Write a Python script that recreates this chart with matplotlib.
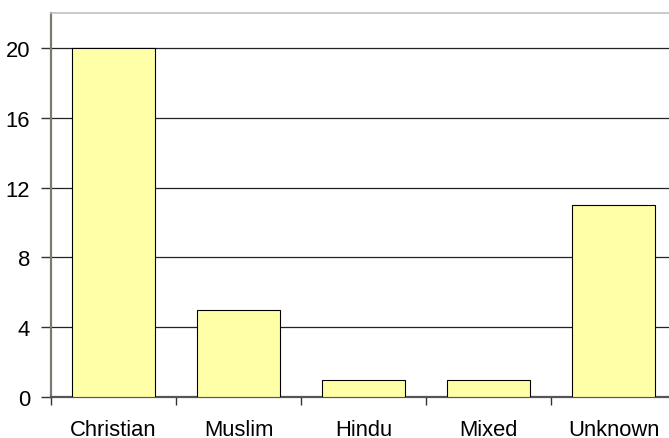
import matplotlib
matplotlib.use("Agg")
import matplotlib.pyplot as plt
import numpy as np

categories = ["Christian", "Muslim", "Hindu", "Mixed", "Unknown"]
counts = [20, 5, 1, 1, 11]
y_ticks = [0, 4, 8, 12, 16, 20]

plt.rcParams["font.family"] = ["Liberation Sans", "DejaVu Sans"]

fig = plt.figure(figsize=(6.69, 4.39), dpi=100)
ax = fig.add_axes([51 / 669, 41 / 439, 625 / 669, 384 / 439])

x = np.arange(len(categories))
ax.bar(x, counts, width=0.667, color="#ffffa8", edgecolor="black", linewidth=0.8, zorder=3)

ax.set_xlim(-0.5, len(categories) - 0.5)
ax.set_ylim(0, 22)
ax.set_yticks(y_ticks)
ax.set_yticklabels([str(v) for v in y_ticks], fontsize=15.8)
ax.yaxis.grid(True, color="#222222", linewidth=0.9, zorder=1)

# labels centred under bars, ticks between categories
ax.set_xticks(x)
ax.set_xticklabels(categories, fontsize=15.8)
ax.set_xticks(np.arange(len(categories) + 1) - 0.5, minor=True)
ax.tick_params(axis="x", which="major", length=0, pad=15.5)
ax.tick_params(axis="x", which="minor", length=6, width=1, color="#333333", direction="out")
ax.tick_params(axis="y", length=7, width=1, color="#333333", pad=8)

ax.spines["left"].set_color("#7a7a72")
ax.spines["left"].set_linewidth(1.6)
ax.spines["bottom"].set_color("#555555")
ax.spines["bottom"].set_linewidth(1.6)
ax.spines["top"].set_color("#c0c0c0")
ax.spines["top"].set_linewidth(1.2)
ax.spines["right"].set_visible(False)

fig.savefig("out.png", dpi=100)
